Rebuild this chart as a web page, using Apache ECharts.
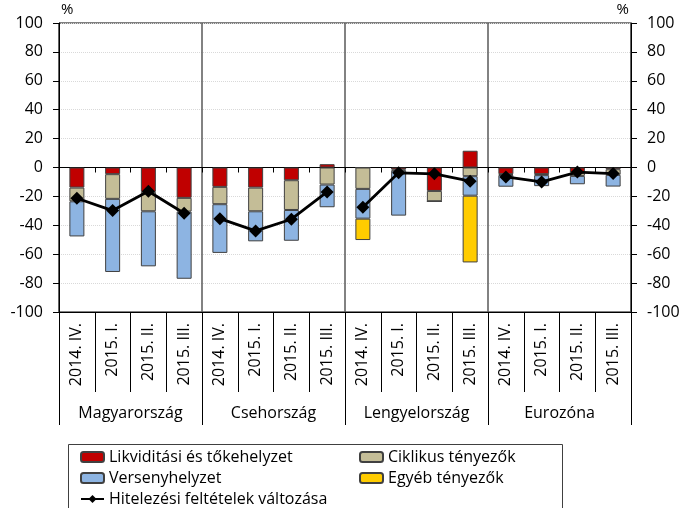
<!DOCTYPE html>
<html>
<head>
<meta charset="utf-8">
<script src="https://cdn.jsdelivr.net/npm/echarts@6/dist/echarts.min.js"></script>
<style>
  html, body { margin: 0; padding: 0; background: #fff; }
  #chart { width: 685px; height: 508px; }
</style>
</head>
<body>
<div id="chart"></div>
<script>
// negyedévek és országok
var quarters = ["2014. IV.", "2015. I.", "2015. II.", "2015. III."];
var countries = ["Magyarország", "Csehország", "Lengyelország", "Eurozóna"];

// sávok (százalék)
var likviditas = [-13.9, -4.6, -16.9, -21.0, -13.4, -13.9, -8.8, 2.3, 0, -1.4, -16.2, 11.6, -4.6, -4.6, -3.5, -1.2];
var ciklikus = [-9.5, -17.1, -13.4, -9.5, -12.0, -16.4, -20.6, -11.8, -14.8, -0.8, -7.2, -6.0, -0.6, -0.7, -2.3, -3.9];
var verseny = [-24.3, -50.6, -38.1, -46.5, -33.7, -20.8, -21.3, -15.7, -20.6, -31.1, 0, -13.5, -8.1, -7.6, -5.8, -8.1];
var egyeb = [null, null, null, null, null, null, null, null, -14.8, null, null, -46.2, null, null, null, null];
// vonal
var hitelezes = [-21.3, -29.8, -16.4, -31.7, -35.4, -43.9, -35.8, -16.9, -27.5, -3.7, -4.4, -9.5, -6.5, -10.0, -3.2, -4.2];

var yTicks = { min: -100, max: 100, interval: 20 };

var categories = [];
countries.forEach(function (c) {
  quarters.forEach(function (q) { categories.push(q); });
});

var font = "Open Sans";
var lineName = "Hitelezési feltételek változása";

var myChart = echarts.init(document.getElementById("chart"));

function barSeries(name, data, color) {
  return {
    name: name,
    type: "bar",
    stack: "total",
    xAxisIndex: 0,
    yAxisIndex: 0,
    barWidth: 15,
    data: data,
    itemStyle: { color: color, borderColor: "#404040", borderWidth: 1 }
  };
}

// külön vonal minden országcsoportra
var lineSeries = countries.map(function (c, g) {
  return {
    name: lineName,
    type: "line",
    xAxisIndex: 0,
    yAxisIndex: 0,
    symbol: "diamond",
    symbolSize: 13,
    lineStyle: { color: "#000", width: 2.8 },
    itemStyle: { color: "#000" },
    data: hitelezes.map(function (v, i) { return Math.floor(i / 4) === g ? v : "-"; })
  };
});

var yAxisBase = {
  type: "value",
  min: yTicks.min,
  max: yTicks.max,
  interval: yTicks.interval,
  name: "%",
  nameLocation: "end",
  nameGap: 6,
  axisLine: { show: true, lineStyle: { color: "#000" } },
  axisTick: { show: true, length: 6, lineStyle: { color: "#000" } },
  axisLabel: { color: "#000", fontFamily: font, fontSize: 16, margin: 16 }
};

var legendText = { color: "#000", fontSize: 16, lineHeight: 16, fontFamily: font };

var option = {
  animation: false,
  textStyle: { fontFamily: font },
  grid: {
    left: 59,
    right: 54,
    top: 23,
    bottom: 196,
    show: true,
    borderColor: "#000",
    borderWidth: 1
  },
  legend: [
    {
      orient: "vertical",
      left: 80,
      top: 449,
      height: 80,
      padding: 0,
      itemWidth: 23,
      itemHeight: 10,
      itemGap: 5,
      textStyle: legendText,
      data: ["Likviditási és tőkehelyzet", "Versenyhelyzet", lineName]
    },
    {
      orient: "vertical",
      left: 359,
      top: 449,
      height: 80,
      padding: 0,
      itemWidth: 23,
      itemHeight: 10,
      itemGap: 5,
      textStyle: legendText,
      data: ["Ciklikus tényezők", "Egyéb tényezők"]
    }
  ],
  graphic: [
    {
      type: "rect",
      shape: { x: 68.5, y: 444.5, width: 494, height: 80 },
      style: { fill: "none", stroke: "#404040", lineWidth: 1 },
      silent: true
    }
  ],
  xAxis: [
    {
      // negyedév feliratok alul
      type: "category",
      data: categories,
      position: "bottom",
      boundaryGap: true,
      axisLine: { show: true, onZero: false, lineStyle: { color: "#000" } },
      axisTick: { show: true, length: 80, interval: 0, lineStyle: { color: "#000" } },
      axisLabel: { rotate: 90, interval: 0, margin: 11, color: "#000", fontFamily: font, fontSize: 16 },
      splitLine: { show: false }
    },
    {
      // nullvonal
      type: "category",
      data: categories,
      position: "bottom",
      boundaryGap: true,
      axisLine: { show: true, onZero: true, onZeroAxisIndex: 0, lineStyle: { color: "#000" } },
      axisTick: { show: true, length: 5, interval: 0, lineStyle: { color: "#000" } },
      axisLabel: { show: false },
      splitLine: { show: false }
    },
    {
      // ország feliratok
      type: "category",
      data: countries,
      position: "bottom",
      offset: 80,
      boundaryGap: true,
      axisLine: { show: false, onZero: false },
      axisTick: { show: true, length: 33, interval: 0, lineStyle: { color: "#000" } },
      axisLabel: { interval: 0, margin: 13, color: "#000", fontFamily: font, fontSize: 16 },
      splitLine: { show: true, interval: 0, lineStyle: { color: "#595959", width: 1.5 } }
    }
  ],
  yAxis: [
    Object.assign({}, yAxisBase, {
      position: "left",
      nameTextStyle: { color: "#000", fontFamily: font, fontSize: 15, align: "left", padding: [0, 0, 0, 2] },
      splitLine: { show: true, lineStyle: { color: "#d9d9d9", type: "dotted" } }
    }),
    Object.assign({}, yAxisBase, {
      position: "right",
      nameTextStyle: { color: "#000", fontFamily: font, fontSize: 15, align: "right", padding: [0, 2, 0, 0] },
      splitLine: { show: false }
    })
  ],
  series: [
    barSeries("Likviditási és tőkehelyzet", likviditas, "#C00000"),
    barSeries("Ciklikus tényezők", ciklikus, "#C4BD97"),
    barSeries("Versenyhelyzet", verseny, "#8DB4E2"),
    barSeries("Egyéb tényezők", egyeb, "#FFCC00")
  ].concat(lineSeries)
};

myChart.setOption(option);
window.addEventListener("resize", function () {
  myChart.resize();
});
</script>
</body>
</html>
